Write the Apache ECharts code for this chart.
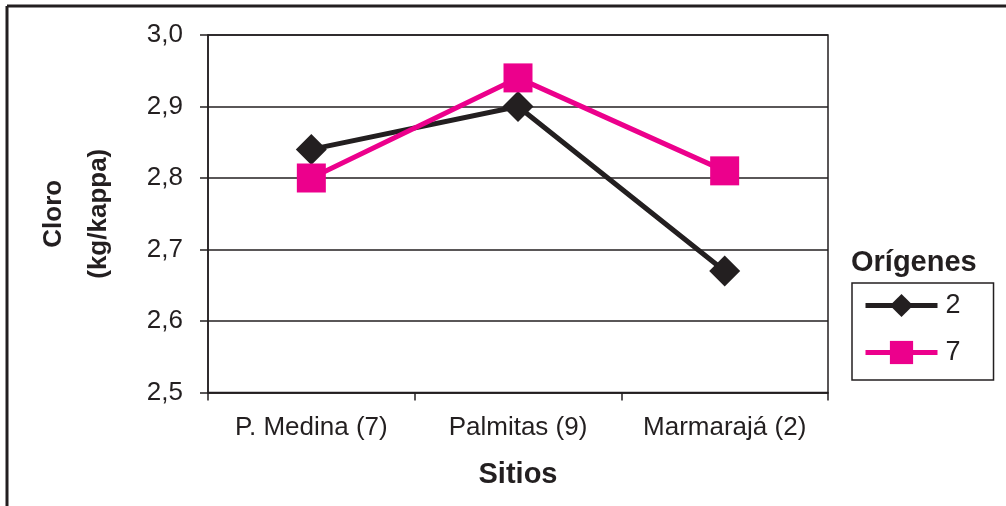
<!DOCTYPE html>
<html>
<head>
<meta charset="utf-8">
<script src="https://cdn.jsdelivr.net/npm/echarts@6/dist/echarts.min.js"></script>
<style>html,body{margin:0;padding:0;background:#fff;}#chart{width:1006px;height:506px;}</style>
</head>
<body>
<div id="chart"></div>
<script>
const categories = ['P. Medina (7)', 'Palmitas (9)', 'Marmarajá (2)'];
const serie2 = [2.84, 2.90, 2.67];
const serie7 = [2.80, 2.94, 2.81];
const seriesNames = ['2', '7'];
const yTitle = 'Cloro\n(kg/kappa)';
const xTitle = 'Sitios';
const legendTitle = 'Orígenes';

const INK = '#231f20';
const PINK = '#ec008c';
const FONT = '"Liberation Sans", Arial, sans-serif';

const chart = echarts.init(document.getElementById('chart'), null, {renderer: 'canvas'});
chart.setOption({
  backgroundColor: '#ffffff',
  animation: false,
  grid: {left: 208, right: 178, top: 35, bottom: 113.5, show: true, borderColor: INK, borderWidth: 1.5, backgroundColor: 'transparent'},
  xAxis: {
    type: 'category',
    data: categories,
    boundaryGap: true,
    name: xTitle,
    nameLocation: 'middle',
    nameGap: 68,
    nameTextStyle: {fontFamily: FONT, fontWeight: 'bold', fontSize: 29, color: INK},
    axisLine: {lineStyle: {color: INK, width: 1.5}},
    axisTick: {show: true, inside: false, length: 8, interval: 0, lineStyle: {color: INK, width: 1.5}},
    axisLabel: {fontFamily: FONT, fontSize: 26, color: INK, margin: 22, interval: 0, hideOverlap: false},
    splitLine: {show: false}
  },
  yAxis: {
    type: 'value',
    min: 2.5,
    max: 3.0,
    interval: 0.1,
    name: yTitle,
    nameLocation: 'middle',
    nameGap: 87,
    nameRotate: 90,
    nameTextStyle: {fontFamily: FONT, fontWeight: 'bold', fontSize: 26, color: INK, lineHeight: 45, align: 'center'},
    axisLine: {show: true, lineStyle: {color: INK, width: 1.5}},
    axisTick: {show: true, inside: false, length: 8, lineStyle: {color: INK, width: 1.5}},
    axisLabel: {fontFamily: FONT, fontSize: 26, color: INK, margin: 25,
      formatter: v => v.toFixed(1).replace('.', ',')},
    splitLine: {show: true, lineStyle: {color: INK, width: 1.5}}
  },
  legend: {
    data: seriesNames,
    orient: 'vertical',
    left: 852,
    top: 283,
    itemWidth: 72,
    itemHeight: 29,
    itemGap: 20,
    padding: [9, 33, 14, 11],
    borderColor: INK,
    borderWidth: 1.5,
    lineStyle: {width: 5},
    textStyle: {fontFamily: FONT, fontSize: 27, color: INK, padding: [0, 0, 0, 3]}
  },
  graphic: [
    {type: 'line', shape: {x1: 7, y1: 6, x2: 1006, y2: 6}, style: {stroke: INK, lineWidth: 3}},
    {type: 'line', shape: {x1: 7, y1: 6, x2: 7, y2: 506}, style: {stroke: INK, lineWidth: 3}},
    {type: 'text', left: 851, top: 248, style: {text: legendTitle, fontFamily: FONT, fontWeight: 'bold', fontSize: 29, fill: INK}}
  ],
  series: [
    {name: seriesNames[0], type: 'line', data: serie2, symbol: 'diamond', symbolSize: 31,
     lineStyle: {color: INK, width: 5}, itemStyle: {color: INK}, z: 2},
    {name: seriesNames[1], type: 'line', data: serie7, symbol: 'rect', symbolSize: 29,
     lineStyle: {color: PINK, width: 5}, itemStyle: {color: PINK}, z: 3}
  ]
});
</script>
</body>
</html>
